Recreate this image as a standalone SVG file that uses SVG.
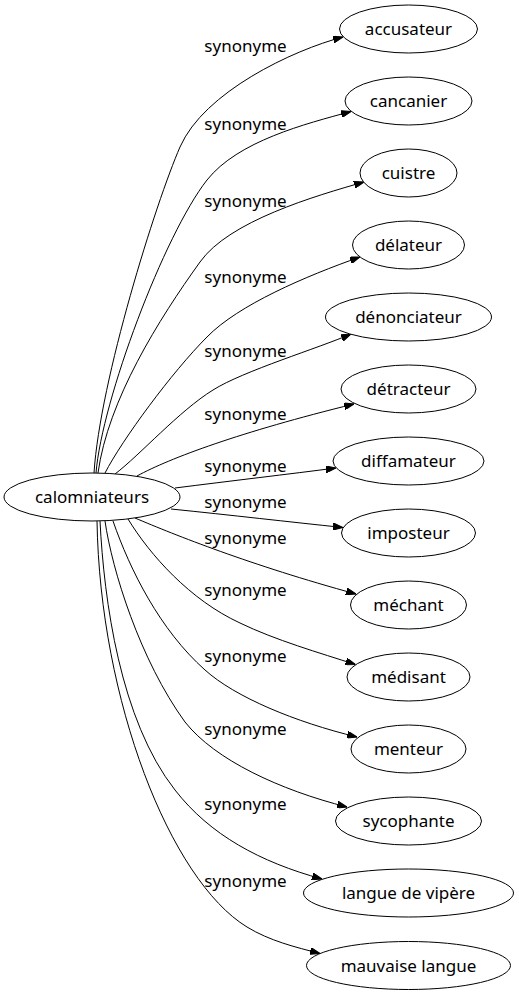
<svg xmlns="http://www.w3.org/2000/svg" width="519" height="995" viewBox="0 0 519 995">
<style>
.n ellipse{fill:#fff;stroke:#000;stroke-width:1}
text{font-family:"Noto Sans","DejaVu Sans",sans-serif;font-size:17px;fill:#000;text-anchor:middle}
.e path{fill:none;stroke:#000;stroke-width:1;marker-end:url(#ah)}
</style>
<defs>
<marker id="ah" viewBox="0 0 10 7" refX="10" refY="3.5" markerWidth="10" markerHeight="7" markerUnits="userSpaceOnUse" orient="auto">
<path d="M0,0 L10,3.5 L0,7 Z" fill="#000" stroke="#000" stroke-width="1"/>
</marker>
</defs>
<rect width="519" height="995" fill="#fff"/>
<g id="edges" class="e">
<path d="M94,473 C100,380 156,202 180,147 C204,92 293,50 343,37"/>
<path d="M96,473 C102,400 164,235 207,180 C238,141 305,124 351,111.5"/>
<path d="M98,473 C108,400 159,319 200,262 C229,221 315,196 364,182"/>
<path d="M105,473 C122,440 172,372 207,337 C238,305 306,276 360,257"/>
<path d="M115,474 C140,455 179,411 213,390 C243,371 319,348 351,334"/>
<path d="M137,476 C170,458 240,432 354,404"/>
<path d="M175,488 C230,481 290,474 336,468"/>
<path d="M171,509 C230,515 290,522 343,527.5"/>
<path d="M135,518 C175,535 250,565 356,594"/>
<path d="M128,519 C150,555 190,600 240,623 C275,640 320,653 355.5,664.5"/>
<path d="M113,521 C130,570 160,630 205,670 C235,697 295,722 357,737"/>
<path d="M105,521 C112,570 140,660 185,722 C215,760 280,790 347,807"/>
<path d="M100,521 C104,600 120,720 175,790 C210,835 260,862 322,879"/>
<path d="M97,521 C100,700 170,880 247,927 C270,941 295,947 320,953.5"/>
<text x="245.5" y="52">synonyme</text>
<text x="245.5" y="130">synonyme</text>
<text x="245.5" y="207">synonyme</text>
<text x="245.5" y="283">synonyme</text>
<text x="245.5" y="357">synonyme</text>
<text x="245.5" y="420">synonyme</text>
<text x="245.5" y="472">synonyme</text>
<text x="245.5" y="508">synonyme</text>
<text x="245.5" y="544">synonyme</text>
<text x="245.5" y="596">synonyme</text>
<text x="245.5" y="662">synonyme</text>
<text x="245.5" y="735">synonyme</text>
<text x="245.5" y="810">synonyme</text>
<text x="245.5" y="887">synonyme</text>
</g>
<g id="calomniateurs" class="n"><ellipse cx="92" cy="497" rx="88" ry="24"/><text x="92" y="503">calomniateurs</text></g>
<g id="accusateur" class="n"><ellipse cx="408.5" cy="29" rx="69" ry="24"/><text x="408.5" y="35">accusateur</text></g>
<g id="cancanier" class="n"><ellipse cx="408.5" cy="101" rx="63.5" ry="24"/><text x="408.5" y="107">cancanier</text></g>
<g id="cuistre" class="n"><ellipse cx="408.5" cy="173" rx="48.5" ry="24"/><text x="408.5" y="179">cuistre</text></g>
<g id="delateur" class="n"><ellipse cx="408.5" cy="245" rx="56" ry="24"/><text x="408.5" y="251">délateur</text></g>
<g id="denonciateur" class="n"><ellipse cx="408.5" cy="317" rx="83" ry="24"/><text x="408.5" y="323">dénonciateur</text></g>
<g id="detracteur" class="n"><ellipse cx="408.5" cy="389" rx="67.5" ry="24"/><text x="408.5" y="395">détracteur</text></g>
<g id="diffamateur" class="n"><ellipse cx="408.5" cy="461" rx="75.5" ry="24"/><text x="408.5" y="467">diffamateur</text></g>
<g id="imposteur" class="n"><ellipse cx="408.5" cy="533" rx="67" ry="24"/><text x="408.5" y="539">imposteur</text></g>
<g id="mechant" class="n"><ellipse cx="408.5" cy="605" rx="58" ry="24"/><text x="408.5" y="611">méchant</text></g>
<g id="medisant" class="n"><ellipse cx="408.5" cy="677" rx="61.5" ry="24"/><text x="408.5" y="683">médisant</text></g>
<g id="menteur" class="n"><ellipse cx="408.5" cy="749" rx="57.5" ry="24"/><text x="408.5" y="755">menteur</text></g>
<g id="sycophante" class="n"><ellipse cx="408.5" cy="821" rx="73" ry="24"/><text x="408.5" y="827">sycophante</text></g>
<g id="langue_de_vipere" class="n"><ellipse cx="408.5" cy="893" rx="105" ry="24"/><text x="408.5" y="899">langue de vipère</text></g>
<g id="mauvaise_langue" class="n"><ellipse cx="408.5" cy="965.5" rx="102" ry="24"/><text x="408.5" y="971.5">mauvaise langue</text></g>
</svg>
